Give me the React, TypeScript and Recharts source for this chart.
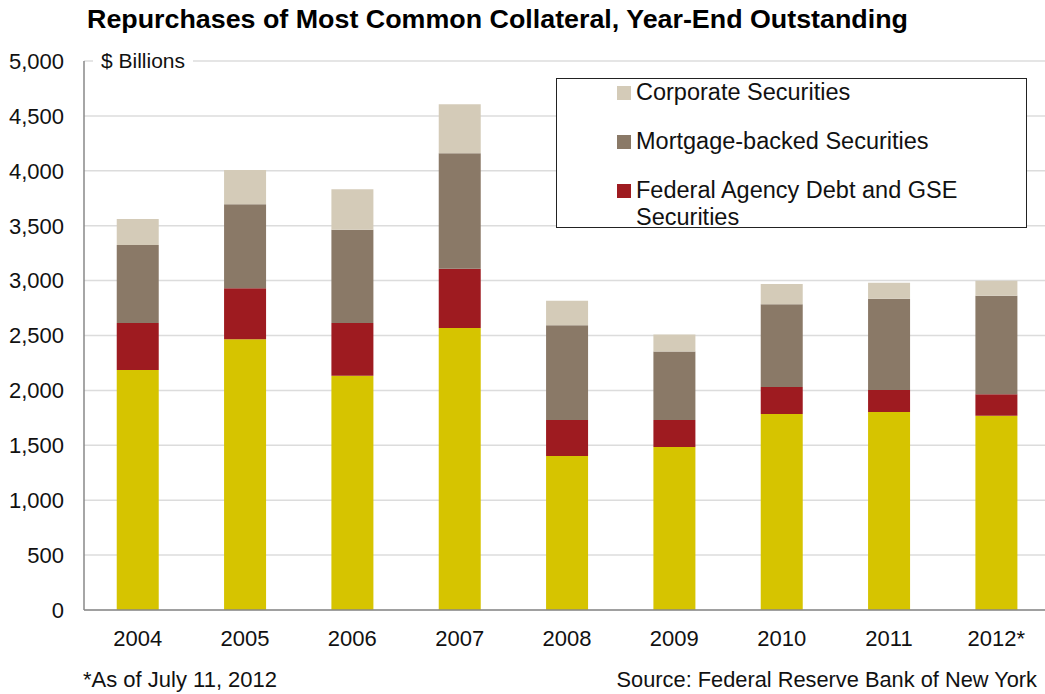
import { BarChart, Bar, XAxis, YAxis, CartesianGrid } from "recharts"

const YEARS = ["2004", "2005", "2006", "2007", "2008", "2009", "2010", "2011", "2012*"]
const TREASURY = [2186, 2465, 2134, 2568, 1403, 1485, 1785, 1803, 1770]
const AGENCY = [428, 465, 480, 541, 327, 245, 246, 201, 194]
const MBS = [710, 765, 850, 1050, 863, 625, 753, 831, 898]
const CORPORATE = [236, 312, 367, 447, 224, 155, 185, 146, 137]
const Y_TICKS = [0, 500, 1000, 1500, 2000, 2500, 3000, 3500, 4000, 4500, 5000]

const FONT = "'Liberation Sans', Arial, sans-serif"

// stacked bottom to top
const SERIES = [
    { key: "treasury", name: "U.S. Treasury Securities", color: "#d6c400", legend: false },
    { key: "agency", name: "Federal Agency Debt and GSE Securities", color: "#9e1b20", legend: true },
    { key: "mbs", name: "Mortgage-backed Securities", color: "#8a7967", legend: true },
    { key: "corporate", name: "Corporate Securities", color: "#d4cbb8", legend: true },
]

const data = YEARS.map((year, i) => ({
    year,
    treasury: TREASURY[i],
    agency: AGENCY[i],
    mbs: MBS[i],
    corporate: CORPORATE[i],
}))

function LegendBox() {
    const shown = SERIES.filter((s) => s.legend).reverse()
    return (
        <div
            style={{
                position: "absolute",
                left: 556,
                top: 78,
                width: 471,
                height: 150,
                boxSizing: "border-box",
                border: "1.5px solid #222",
                background: "#fff",
                fontSize: 23.5,
                color: "#111",
            }}
        >
            {shown.map((s) => (
                <div key={s.key} style={{ position: "relative", lineHeight: "27px", marginBottom: 22 }}>
                    <span
                        style={{
                            position: "absolute",
                            left: 60,
                            top: 7,
                            width: 14,
                            height: 14,
                            background: s.color,
                        }}
                    />
                    <div style={{ marginLeft: 79, width: 370 }}>{s.name}</div>
                </div>
            ))}
        </div>
    )
}

export default function App() {
    return (
        <div
            style={{
                position: "absolute",
                left: 0,
                top: 0,
                width: 1045,
                height: 694,
                overflow: "hidden",
                background: "#fff",
                fontFamily: FONT,
            }}
        >
            <svg width={1045} height={40} style={{ position: "absolute", left: 0, top: 0 }}>
                <text
                    x={87}
                    y={28}
                    textLength={821}
                    lengthAdjust="spacingAndGlyphs"
                    fontFamily={FONT}
                    fontWeight="bold"
                    fontSize={25}
                    fill="#000"
                >
                    Repurchases of Most Common Collateral, Year-End Outstanding
                </text>
            </svg>
            <BarChart
                width={1050}
                height={694}
                data={data}
                margin={{ top: 61, right: 0, bottom: 0, left: 0 }}
                barCategoryGap="30.5%"
            >
                <CartesianGrid vertical={false} stroke="#dcdcdc" strokeWidth={1.5} />
                <XAxis
                    dataKey="year"
                    tickLine={false}
                    tickSize={0}
                    tickMargin={20}
                    stroke="#888"
                    strokeWidth={1.5}
                    tick={{ fill: "#111", fontSize: 22, fontFamily: FONT }}
                    height={84}
                />
                <YAxis
                    domain={[0, 5000]}
                    ticks={Y_TICKS}
                    width={84}
                    tickLine={false}
                    tickSize={0}
                    tickMargin={20}
                    stroke="#888"
                    strokeWidth={1.5}
                    tick={{ fill: "#111", fontSize: 22, fontFamily: FONT }}
                    tickFormatter={(v: number) => v.toLocaleString("en-US")}
                />
                {SERIES.map((s) => (
                    <Bar
                        key={s.key}
                        dataKey={s.key}
                        name={s.name}
                        stackId="a"
                        fill={s.color}
                        isAnimationActive={false}
                    />
                ))}
            </BarChart>
            <LegendBox />
            <div
                style={{
                    position: "absolute",
                    left: 93,
                    top: 48,
                    padding: "0 8px",
                    background: "#fff",
                    fontSize: 21,
                    lineHeight: "26px",
                    color: "#111",
                }}
            >
                $ Billions
            </div>
            <div style={{ position: "absolute", left: 83, top: 667, fontSize: 22, lineHeight: "26px", color: "#111" }}>
                *As of July 11, 2012
            </div>
            <div
                style={{
                    position: "absolute",
                    right: 8,
                    top: 667,
                    fontSize: 21.8,
                    lineHeight: "26px",
                    color: "#111",
                }}
            >
                Source: Federal Reserve Bank of New York
            </div>
        </div>
    )
}
